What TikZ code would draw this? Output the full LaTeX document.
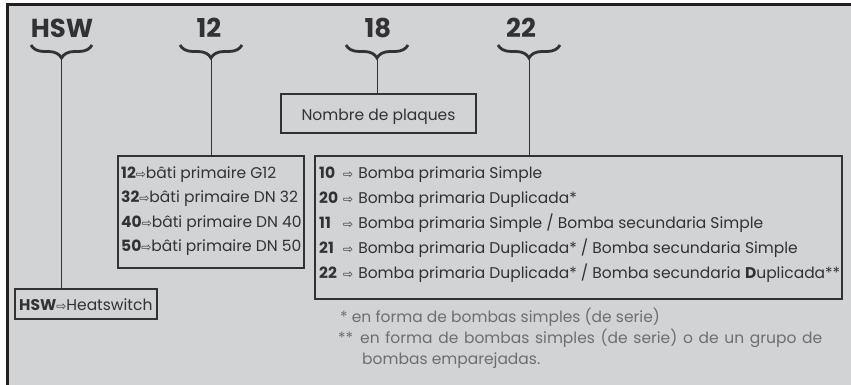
\documentclass[tikz,border=0pt]{standalone}
\usepackage{fontspec}
\setmainfont{Poppins}
\newfontfamily\arrowfont{DejaVu Sans}
\usetikzlibrary{decorations.pathreplacing,positioning}
\definecolor{panelgray}{RGB}{209,211,212}
\definecolor{framedark}{RGB}{35,31,32}
\definecolor{textdark}{RGB}{50,50,52}
\definecolor{notegray}{RGB}{109,110,113}
\newcommand{\arw}{{\arrowfont\fontsize{12}{12}\selectfont ⇨}}
\tikzset{
  code title/.style={font=\fontsize{26}{26}\selectfont\bfseries, text=textdark, inner sep=0pt, anchor=base},
  code brace/.style={line width=2.8pt, draw=textdark, decorate,
    decoration={brace, mirror, amplitude=13pt}},
  code box/.style={draw=textdark, line width=1.1pt, rectangle, inner sep=0pt},
  code row/.style={font=\fontsize{15.5}{15.5}\selectfont, text=textdark, inner sep=0pt, anchor=base west},
  note row/.style={font=\fontsize{15.5}{15.5}\selectfont, text=notegray, inner sep=0pt, anchor=base west},
  link/.style={draw=textdark, line width=1pt}
}

\begin{document}
\begin{tikzpicture}[x=1pt,y=-1pt]
  \useasboundingbox (0,0) rectangle (851,385);
  \fill[panelgray] (7,5) rectangle (851,385);
  \draw[framedark, line width=3pt] (7.5,385) -- (7.5,5) -- (851,5);

  % code fields with their braces
  \foreach \name/\txt/\cx/\bl/\br in {hsw/HSW/62/31/92, frame/12/209/180/242, plates/18/378/346/408, pump/22/521/498/560}
  {
    \node[code title] (t-\name) at (\cx,38) {\txt};
    \draw[code brace] (\bl,45) -- (\br,45);
    \coordinate (tip-\name) at ({(\bl+\br)/2},58);
  }

  % boxes
  \node[code box, minimum width=142pt, minimum height=30pt] (box-hsw) at (86,304) {};
  \node[code box, minimum width=186pt, minimum height=112pt] (box-frame) at (211,212) {};
  \node[code box, minimum width=195pt, minimum height=39pt] (box-plates) at (378.5,113.5) {};
  \node[code box, minimum width=527pt, minimum height=143pt] (box-pump) at (578.5,227.5) {};

  \foreach \name in {hsw,frame,plates,pump}
    \draw[link] (tip-\name) -- (tip-\name |- box-\name.north);

  \node[code row] (hsw-row) at (19,310) {\textbf{HSW}\arw Heatswitch};
  \node[code row, anchor=base] (plates-row) at (378.5,121) {Nombre de plaques};

  \foreach \n/\dn [count=\i from 0] in {12/G12, 32/DN 32, 40/DN 40, 50/DN 50}
    \node[code row] (frame-\n) at (121,{178+24.5*\i}) {\textbf{\n}\arw bâti primaire \dn};

  \foreach \n/\txt [count=\i from 0] in {10/{Bomba primaria Simple}, 20/{Bomba primaria Duplicada*},
      11/{Bomba primaria Simple / Bomba secundaria Simple},
      21/{Bomba primaria Duplicada* / Bomba secundaria Simple},
      22/{Bomba primaria Duplicada* / Bomba secundaria \textbf{D}uplicada**}}
    \node[code row] (pump-\n) at (319,{178+25*\i}) {\makebox[24pt][l]{\textbf{\n}}\arw\hspace{5pt}\txt};

  % notes
  \node[note row] (note-1) at (340,322) {* en forma de bombas simples (de serie)};
  \node[note row] (note-2) at (338,343) {\makebox[22pt][l]{**}\makebox[462pt][s]{en forma de bombas simples (de serie) o de un grupo de}};
  \node[note row] (note-3) at (362,364) {bombas emparejadas.};
\end{tikzpicture}
\end{document}
